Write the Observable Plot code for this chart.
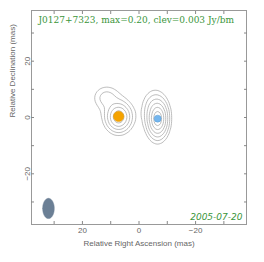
<!DOCTYPE html>
<html><head><meta charset="utf-8">
<script src="https://cdn.jsdelivr.net/npm/d3@7"></script>
<script src="https://cdn.jsdelivr.net/npm/@observablehq/plot@0.6"></script>
<style>body{margin:0;background:#fff}</style>
</head><body><div id="chart"></div>
<script>
// Source name / labels
const titleText = "J0127+7323, max=0.20, clev=0.003 Jy/bm";
const dateText = "2005-07-20";
const xLabel = "Relative Right Ascension (mas)";
const yLabel = "Relative Declination (mas)";
// Contour levels (Jy/beam): clev * 2^n
const levels = [0.003, 0.006, 0.012, 0.024, 0.048, 0.096, 0.192];
// Brightness model (mas, Jy/beam, scale lengths in mas)
const compRA   = [-6.6, -4.6, 7.2, 11.5];
const compDec  = [-0.4, 3.5, 0.2, 7.0];
const compPeak = [0.20, 0.006, 0.10, 0.009];
const compAx   = [0.95, 1.8, 1.3, 2.2];
const compAy   = [1.75, 3.0, 1.5, 2.0];
// Model-fit components (dots)
const dotRA = [7.2, -6.6];
const dotDec = [0.4, -0.4];
const dotColor = ["#f5a300", "#74b6ee"];
const dotR = [5.2, 3.5];
// Restoring beam
const beamRA = [32];
const beamDec = [-32.3];
const beamMaj = [3.6];
const beamMin = [2.05];
// Axis ticks
const majorTicks = [-20, 0, 20];
const allTicks = [-30, -20, -10, 0, 10, 20, 30];

function model(x, y) {
  let v = 0;
  for (let i = 0; i < compRA.length; i++) {
    const dx = (x - compRA[i]) / compAx[i], dy = (y - compDec[i]) / compAy[i];
    v += compPeak[i] * Math.exp(-(Math.sqrt(1 + dx * dx + dy * dy) - 1));
  }
  return v;
}
const beamPts = d3.range(0, 73).map(k => {
  const t = k / 72 * 2 * Math.PI;
  return {x: beamRA[0] + beamMin[0] * Math.cos(t), y: beamDec[0] + beamMaj[0] * Math.sin(t)};
});
const fmt = d => d < 0 ? "\u2212" + (-d) : String(d);

const chart = Plot.plot({
  width: 264, height: 262,
  marginLeft: 31, marginRight: 18, marginTop: 10, marginBottom: 38,
  style: {fontFamily: "Liberation Sans, sans-serif", fontSize: "8px", color: "#666", background: "#fff"},
  x: {domain: [38, -38]},
  y: {domain: [-38, 38]},
  marks: [
    Plot.contour({value: model, x1: 38, x2: -38, y1: -38, y2: 38, thresholds: levels,
      stroke: "#a0a0a0", strokeWidth: 0.7, fill: "none"}),
    Plot.line(beamPts, {x: "x", y: "y", fill: "#6b7f95", stroke: "#6b7f95", strokeWidth: 0.5}),
    Plot.dot([0], {x: () => dotRA[0], y: () => dotDec[0], r: dotR[0], fill: dotColor[0], stroke: "#e09400", strokeWidth: 0.5}),
    Plot.dot([1], {x: () => dotRA[1], y: () => dotDec[1], r: dotR[1], fill: dotColor[1], stroke: "#5a9ad0", strokeWidth: 0.5}),
    Plot.frame({stroke: "#999"}),
    Plot.axisX({anchor: "bottom", ticks: allTicks, tickSize: -3, tickFormat: () => "", label: null, stroke: "#888"}),
    Plot.axisX({anchor: "top", ticks: allTicks, tickSize: -3, tickFormat: () => "", label: null, stroke: "#888"}),
    Plot.axisY({anchor: "left", ticks: allTicks, tickSize: -3, tickFormat: () => "", label: null, stroke: "#888"}),
    Plot.axisY({anchor: "right", ticks: allTicks, tickSize: -3, tickFormat: () => "", label: null, stroke: "#888"}),
    Plot.axisX({anchor: "bottom", ticks: majorTicks, tickSize: 0, tickPadding: 3, tickFormat: fmt, label: null, fill: "#666"}),
    Plot.axisY({anchor: "left", ticks: majorTicks, tickSize: 0, tickPadding: 4, rotate: -90, textAnchor: "middle",
      tickFormat: fmt, label: null, fill: "#666"}),
    Plot.text([xLabel], {frameAnchor: "bottom", dy: 21, text: d => d, fill: "#666", fontSize: 8}),
    Plot.text([yLabel], {frameAnchor: "left", dx: -19, rotate: -90, text: d => d, fill: "#666", fontSize: 8}),
    Plot.text([titleText], {frameAnchor: "top-left", dx: 7, dy: 6, text: d => d, fill: "#3a953a",
      fontFamily: "DejaVu Serif, serif", fontSize: 9}),
    Plot.text([dateText], {frameAnchor: "bottom-right", dx: -4, dy: -5, text: d => d, fill: "#3a953a",
      fontFamily: "DejaVu Sans, sans-serif", fontStyle: "italic", fontSize: 9})
  ]
});
document.getElementById("chart").appendChild(chart);
</script></body></html>
